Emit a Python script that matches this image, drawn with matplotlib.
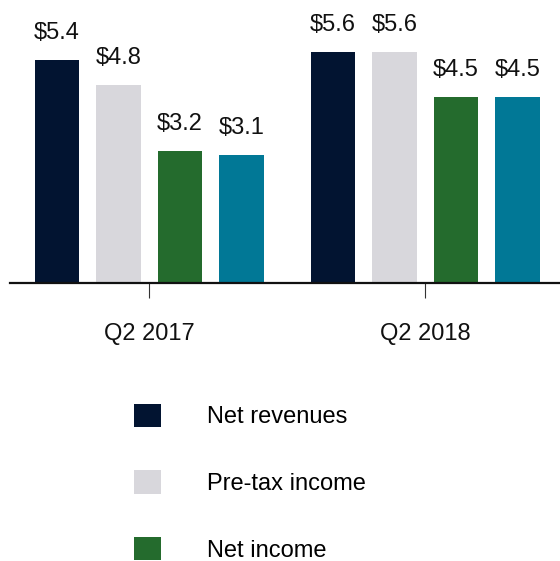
import numpy as np
import matplotlib
matplotlib.use('Agg')
import matplotlib.pyplot as plt
from matplotlib.patches import Patch

plt.rcParams['font.family'] = ['Liberation Sans', 'DejaVu Sans']

# data
quarters = ['Q2 2017', 'Q2 2018']
series = ['Net revenues', 'Pre-tax income', 'Net income', 'Net earnings']
net_revenues = [5.4, 5.6]
pretax_income = [4.8, 5.6]
net_income = [3.2, 4.5]
net_earnings = [3.1, 4.5]
colors = ['#021431', '#D8D7DC', '#246B2D', '#017896']
legend_shown = 3  # the fourth legend row is cut off in the original

values = [net_revenues, pretax_income, net_income, net_earnings]

fig = plt.figure(figsize=(5.6, 5.61), dpi=100)
ax = fig.add_axes([10 / 560, (561 - 283) / 561, 1 - 10 / 560, 268 / 561])

x = np.arange(len(quarters))
step = 0.2228
width = 0.161
for i, (vals, color) in enumerate(zip(values, colors)):
    pos = x + (i - 1.5) * step
    bars = ax.bar(pos, vals, width=width, color=color, zorder=2)
    for b, v in zip(bars, vals):
        ax.annotate(f'${v:.1f}', (b.get_x() + b.get_width() / 2, v),
                    xytext=(0, 11.5), textcoords='offset points',
                    ha='center', va='bottom', fontsize=17, color='#111111')

ax.set_xlim(-0.5045, 1.488)
ax.set_ylim(0, 6.49)
ax.set_xticks(x)
ax.set_xticklabels(quarters, fontsize=17, color='#111111')
ax.tick_params(axis='x', length=10.8, width=0.8, color='#333333', pad=18)
ax.set_yticks([])
for s in ['top', 'right', 'left']:
    ax.spines[s].set_visible(False)
ax.spines['bottom'].set_linewidth(1.6)
ax.spines['bottom'].set_color('#111111')

handles = [Patch(facecolor=c, edgecolor='none') for c in colors[:legend_shown]]
fig.legend(handles, series[:legend_shown], loc='upper left',
           bbox_to_anchor=(134 / 560, 1 - 403.5 / 561), frameon=False,
           fontsize=17, handlelength=1.14, handleheight=1.14,
           handletextpad=1.95, labelspacing=1.785, borderpad=0,
           borderaxespad=0)

fig.savefig('out.png', dpi=100)
